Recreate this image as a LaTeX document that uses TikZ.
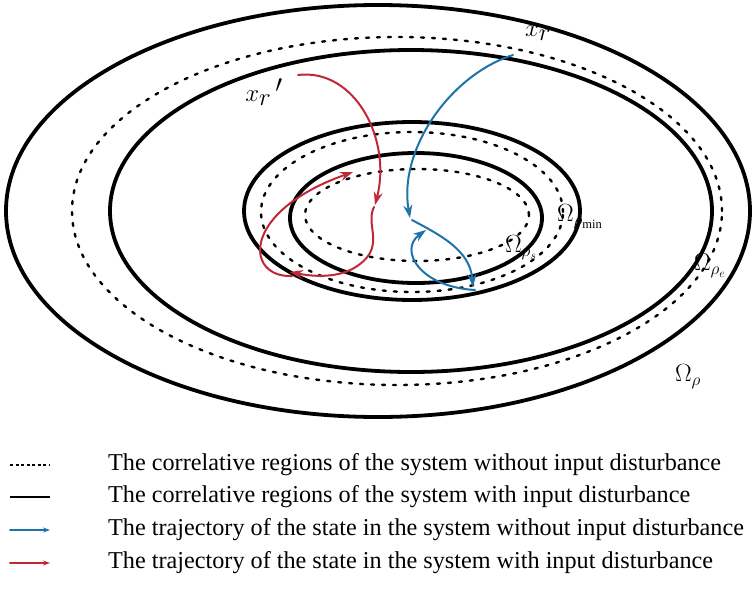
\documentclass[tikz,border=0pt]{standalone}
\usepackage{fontspec}
\setmainfont{Liberation Serif}
\usetikzlibrary{calc,arrows.meta}

\definecolor{trajblue}{RGB}{30,115,170}
\definecolor{trajred}{RGB}{190,40,55}

\begin{document}
\begin{tikzpicture}[x=1pt, y=-1pt, >={Stealth[length=13pt,width=9pt]}, line join=round, line cap=round,
    regionsolid/.style={line width=3.8pt, black},
    regiondashed/.style={line width=2.4pt, black, dash pattern=on 3pt off 8pt},
    trajb/.style={line width=2pt, trajblue, ->},
    trajr/.style={line width=2pt, trajred, ->},
    legendtext/.style={anchor=west, inner sep=0pt, font=\fontsize{24.2}{28}\selectfont},
    omegalabel/.style={inner sep=0pt, font=\fontsize{25}{28}\selectfont},
    biglabel/.style={inner sep=0pt, font=\fontsize{38}{42}\selectfont}]
    \useasboundingbox (0,0) rectangle (754,589);

    % 区域 (实线: 有输入扰动; 虚线: 无输入扰动)
    \draw[regionsolid] (378,211) ellipse [x radius=372pt, y radius=206pt];
    \draw[regiondashed] (397,211) ellipse [x radius=325pt, y radius=174pt];
    \draw[regionsolid] (411,211) ellipse [x radius=301pt, y radius=161pt];
    \draw[regionsolid] (412,211) ellipse [x radius=168pt, y radius=89pt];
    \draw[regiondashed] (412,212) ellipse [x radius=151pt, y radius=80pt];
    \draw[regionsolid] (416,218) ellipse [x radius=126pt, y radius=65pt];
    \draw[regiondashed] (417,215) ellipse [x radius=112pt, y radius=46pt];

    % 区域标签
    \node[omegalabel] (Orho) at (688,377) {$\Omega_{\rho}$};
    \node[omegalabel] (Orhoe) at (710,266) {$\Omega_{\rho_e}$};
    \node[omegalabel] (Orhomin) at (580,217) {$\Omega_{\rho_{\min}}$};
    \node[omegalabel] (Orhos) at (521,248) {$\Omega_{\rho_s}$};

    % 初始状态
    \node[biglabel] (xr) at (538,33) {$x_r$};
    \node[biglabel] (xrp) at (264,92) {$x_r\,'$};

    % 无输入扰动的状态轨迹
    \coordinate (B0) at (513,55);
    \coordinate (B1) at (410,218);
    \coordinate (B2) at (473,287);
    \coordinate (B3) at (426,230);
    \draw[trajb] (B0) .. controls (450,75) and (398,150) .. (B1);
    \draw[trajb] ($(B1)+(2,2)$) .. controls (440,235) and (470,250) .. (B2);
    \draw[trajb] ($(B2)+(2,3)$) .. controls (420,287) and (398,250) .. (B3);

    % 有输入扰动的状态轨迹
    \coordinate (R0) at (298,75);
    \coordinate (R1) at (375,205);
    \coordinate (R2) at (290,272);
    \coordinate (R3) at (353,172);
    \draw[trajr] (R0) .. controls (355,68) and (392,140) .. (R1);
    \draw[trajr] ($(R1)+(-1,2)$) .. controls (365,225) and (385,245) .. (360,264)
        .. controls (340,280) and (310,276) .. (R2);
    \draw[trajr] ($(R2)+(2,4)$) .. controls (245,278) and (240,212) .. (R3);

    % 图例
    \foreach \y/\txt in {
        465/The correlative regions of the system without input disturbance,
        497/The correlative regions of the system with input disturbance,
        530/The trajectory of the state in the system without input disturbance,
        563/The trajectory of the state in the system with input disturbance}{
        \node[legendtext] at (108,\y) {\txt};
    }
    \draw[line width=1.5pt, dash pattern=on 3pt off 2.5pt, line cap=butt] (10,465) -- (50,465);
    \draw[line width=2.2pt, line cap=butt] (10,497) -- (50,497);
    \draw[trajblue, line width=2pt, -{Stealth[length=7pt,width=5pt]}] (10,530) -- (50,530);
    \draw[trajred, line width=2pt, -{Stealth[length=7pt,width=5pt]}] (10,563) -- (50,563);
\end{tikzpicture}
\end{document}
